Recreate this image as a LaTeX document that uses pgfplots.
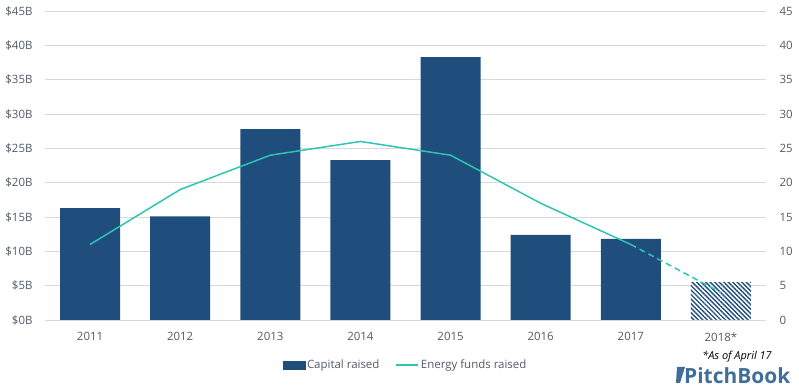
\documentclass[border=0pt]{standalone}
\usepackage{fontspec}
\setmainfont{Open Sans}
\usepackage{pgfplots}
\pgfplotsset{compat=1.18}
\usetikzlibrary{patterns.meta}
\definecolor{barblue}{HTML}{1F4E7D}
\definecolor{tealc}{HTML}{2CC5B2}
\definecolor{gridgray}{HTML}{D9D9D9}
\definecolor{txt}{HTML}{505A66}
\definecolor{pb}{HTML}{3F6F99}
\begin{document}
\begin{tikzpicture}[x=1bp,y=1bp]
\useasboundingbox (0bp,0bp) rectangle (799bp,388bp);
\pgfplotsset{
 base/.style={
  at={(45bp,68bp)}, anchor=south west, scale only axis, width=721bp, height=309bp,
  xmin=-0.5, xmax=7.5, ymin=0, ymax=45, ytick={0,5,...,45},
  axis line style={draw=none}, major tick length=0pt,
  /pgf/number format/assume math mode=true,
  tick label style={font=\fontsize{11.5}{13}\selectfont, text=txt},
 }
}
\begin{axis}[base,
  xtick={0,...,7}, xticklabels={2011,2012,2013,2014,2015,2016,2017,2018*},
  ymajorgrids, grid style={gridgray, line width=0.8pt},
  yticklabel={\$\pgfmathprintnumber{\tick}B},
  yticklabel style={xshift=-9bp},
  xticklabel style={yshift=-9bp},
  axis on top=false]
\addplot[ybar, bar shift=0, bar width=0.667, fill=barblue, draw=none]
  coordinates {(0,16.3) (1,15.1) (2,27.8) (3,23.3) (4,38.3) (5,12.4) (6,11.8)};
\addplot[ybar, bar shift=0, bar width=0.667, fill=white, draw=none]
  coordinates {(7,5.4)};
\addplot[ybar, bar shift=0, bar width=0.667, draw=none,
  pattern={Lines[angle=-45,distance=3.2pt,line width=1.4pt]}, pattern color=barblue]
  coordinates {(7,5.4)};
\end{axis}
\begin{axis}[base,
  axis y line*=right, xtick=\empty,
  yticklabel style={xshift=10bp},
  legend columns=2,
  legend style={at={(0.5,-0.145)}, anchor=center, draw=none, fill=none,
    font=\fontsize{11.5}{13}\selectfont, text=txt,
    /tikz/every even column/.append style={column sep=14bp}},
  ]
\addlegendimage{legend image code/.code={\fill[barblue] (0bp,-4bp) rectangle (22bp,4bp);}}
\addlegendentry{Capital raised}
\addplot[tealc, line width=1.5pt,
  legend image code/.code={\draw[tealc, line width=1.5pt] (0bp,0bp) -- (22bp,0bp);}]
  coordinates {(0,11) (1,19) (2,24) (3,26) (4,24) (5,17) (6,11)};
\addlegendentry{Energy funds raised}
\addplot[tealc, line width=1.5pt, dash pattern=on 6pt off 4pt, forget plot]
  coordinates {(6,11) (7,4)};
\end{axis}
\node[font=\itshape\fontsize{11}{12}\selectfont, anchor=center] at (737bp,31bp) {*As of April 17};
\fill[pb] (677bp,21bp) -- (685bp,21bp) -- (680bp,5bp) -- (676bp,5bp) -- cycle;
\node[font=\bfseries\fontsize{21}{22}\selectfont, text=pb, anchor=base west, inner sep=0pt] at (684bp,5bp) {PitchBook};
\end{tikzpicture}
\end{document}
